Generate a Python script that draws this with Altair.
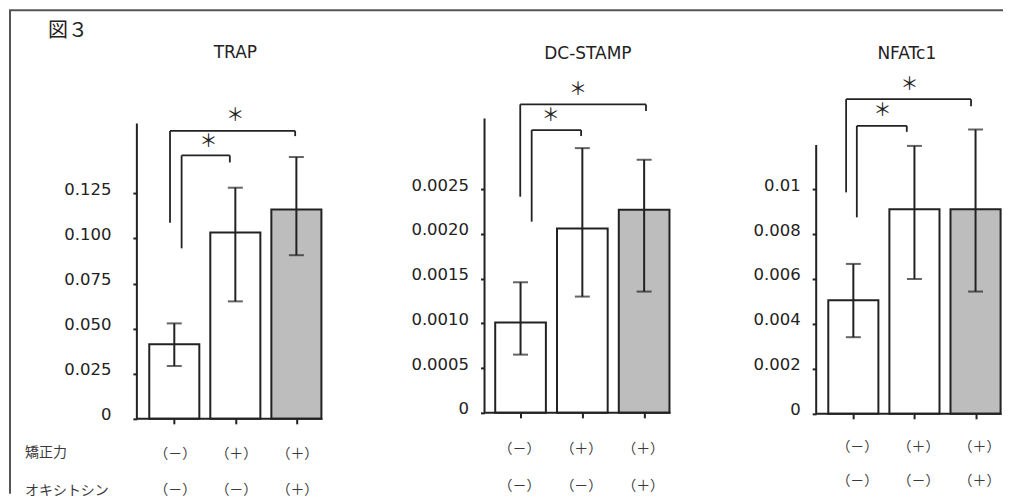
import altair as alt
import pandas as pd

# ---------------- data ----------------
GENES = ["TRAP", "DC-STAMP", "NFATc1"]
POSITIONS = [1, 2, 3]
FORCE = ["（－）", "（＋）", "（＋）"]
OXY = ["（－）", "（－）", "（＋）"]
OXY_GROUP = ["neg", "neg", "pos"]
ROW_HEADERS = ["矯正力", "オキシトシン"]
FIG_LABEL = "図３"

TRAP_MEAN = [0.0413, 0.1033, 0.1160]
TRAP_LOW = [0.0293, 0.0651, 0.0907]
TRAP_HIGH = [0.0529, 0.1281, 0.1451]

DC_MEAN = [0.00101, 0.00206, 0.00227]
DC_LOW = [0.000651, 0.00130, 0.001356]
DC_HIGH = [0.00146, 0.00296, 0.00283]

NF_MEAN = [0.00505, 0.0091, 0.0091]
NF_LOW = [0.00341, 0.0060, 0.00544]
NF_HIGH = [0.00667, 0.01192, 0.01265]

TRAP_TICKS = [0, 0.025, 0.05, 0.075, 0.1, 0.125]
DC_TICKS = [0, 0.0005, 0.001, 0.0015, 0.002, 0.0025]
NF_TICKS = [0, 0.002, 0.004, 0.006, 0.008, 0.01]

# significance brackets: (left-leg x, left-leg bottom, top, right-leg x, right-leg bottom)
TRAP_BRACKETS = [(1.12, 0.0945, 0.1460, 1.91, 0.1421), (0.93, 0.1087, 0.1596, 2.98, 0.1567)]
TRAP_STAR_X = [1.56, 2.00]
TRAP_STAR_Y = [0.1535, 0.1680]
DC_BRACKETS = [(1.18, 0.002138, 0.003162, 1.98, 0.003095), (0.995, 0.002417, 0.003449, 3.03, 0.003374)]
DC_STAR_X = [1.49, 1.93]
DC_STAR_Y = [0.003315, 0.003612]
NF_BRACKETS = [(1.057, 0.008742, 0.012813, 1.875, 0.012547), (0.882, 0.009853, 0.0140, 2.926, 0.013689)]
NF_STAR_X = [1.476, 1.917]
NF_STAR_Y = [0.013470, 0.014650]

# ---------------- style / layout ----------------
FONT = "DejaVu Sans"
CJK = "Noto Sans CJK JP"
INK = "#222222"
INK2 = "#3a3a3a"
GRAY = "#bdbdbd"
BAR_HALF = 0.41

LAYOUT = [
    dict(xmin=0.387, xmax=3.791, ytop=0.19324, axis_top=0.1637, w=208, h=349,
         fmt="datum.value == 0 ? '0' : format(datum.value, '.3f')", lp=22,
         title_x=2.0, title_y=-17, row1=384, row2=420, dx=1),
    dict(xmin=0.417, xmax=3.521, ytop=0.0038315, axis_top=0.003292, w=192, h=343,
         fmt="datum.value == 0 ? '0' : format(datum.value, '.4f')", lp=12,
         title_x=2.09, title_y=-16, row1=379, row2=416, dx=-1),
    dict(xmin=0.392, xmax=3.433, ytop=0.015289, axis_top=0.011956, w=186, h=344,
         fmt="datum.value == 0 ? '0' : format(datum.value, '.3~f')", lp=12,
         title_x=1.875, title_y=-16, row1=377, row2=411, dx=4),
]


def panel(idx, name, mean, low, high, ticks, brackets, star_x, star_y):
    L = LAYOUT[idx]
    xs = alt.Scale(domain=[L["xmin"], L["xmax"]], nice=False, zero=False)
    ys = alt.Scale(domain=[0, L["ytop"]], nice=False, zero=False)
    xaxis = alt.Axis(values=POSITIONS, labels=False, domain=False, grid=False,
                     tickSize=5, tickWidth=2, tickColor=INK, title=None)
    yaxis = alt.Axis(values=ticks, labelExpr=L["fmt"], domain=False, grid=False,
                     tickSize=4, tickWidth=2, tickColor=INK, labelFont=FONT,
                     labelFontSize=16.5, labelColor=INK, labelPadding=L["lp"],
                     labelOffset=-4, title=None)

    def X(f):
        return alt.X(f, type="quantitative", scale=xs, axis=xaxis)

    def Y(f):
        return alt.Y(f, type="quantitative", scale=ys, axis=yaxis)

    df = pd.DataFrame({"pos": POSITIONS, "mean": mean, "low": low, "high": high,
                       "force": FORCE, "oxy": OXY, "grp": OXY_GROUP})
    base = alt.Chart(df)

    bars = base.transform_calculate(
        x1=f"datum.pos - {BAR_HALF}", x2=f"datum.pos + {BAR_HALF}"
    ).mark_bar(stroke=INK, strokeWidth=2).encode(
        x=X("x1"), x2="x2:Q", y=Y("mean"), y2=alt.datum(0),
        fill=alt.Fill("grp:N", scale=alt.Scale(domain=["neg", "pos"], range=["white", GRAY]), legend=None),
    )
    err = base.mark_rule(color=INK, strokeWidth=2).encode(x=X("pos"), y=Y("low"), y2="high:Q")
    cap_lo = base.mark_tick(color=INK, thickness=2, size=15, orient="horizontal").encode(x=X("pos"), y=Y("low"))
    cap_hi = base.mark_tick(color=INK, thickness=2, size=15, orient="horizontal").encode(x=X("pos"), y=Y("high"))

    # axis lines
    yline = alt.Chart(pd.DataFrame({"x": [L["xmin"]], "a": [0.0], "b": [L["axis_top"]]})).mark_rule(
        color=INK, strokeWidth=2).encode(x=X("x"), y=Y("a"), y2="b:Q")
    xline = alt.Chart(pd.DataFrame({"a": [L["xmin"]], "b": [POSITIONS[-1] + BAR_HALF + 0.016], "y": [0.0]})).mark_rule(
        color=INK, strokeWidth=2).encode(x=X("a"), x2="b:Q", y=Y("y"))

    # brackets
    segs = []
    for (xa, ya, yt, xb, yb) in brackets:
        segs.append({"xa": xa, "xb": xa, "ya": ya, "yb": yt})
        segs.append({"xa": xa, "xb": xb, "ya": yt, "yb": yt})
        segs.append({"xa": xb, "xb": xb, "ya": yt, "yb": yb})
    br = alt.Chart(pd.DataFrame(segs)).mark_rule(color=INK, strokeWidth=1.8).encode(
        x=X("xa"), x2="xb:Q", y=Y("ya"), y2="yb:Q")
    stars = alt.Chart(pd.DataFrame({"x": star_x, "y": star_y})).mark_text(
        text="＊", font=CJK, fontSize=18, color=INK, baseline="middle").encode(x=X("x"), y=Y("y"))

    title = alt.Chart(pd.DataFrame({"name": [name], "x": [L["title_x"]]})).mark_text(
        font=FONT, fontSize=17, color=INK, baseline="middle").encode(
        x=X("x"), y=alt.value(L["title_y"]), text="name:N")

    row1 = base.mark_text(font=CJK, fontSize=14, color=INK2, baseline="middle", dx=L["dx"]).encode(
        x=X("pos"), y=alt.value(L["row1"]), text="force:N")
    row2 = base.mark_text(font=CJK, fontSize=14, color=INK2, baseline="middle", dx=L["dx"]).encode(
        x=X("pos"), y=alt.value(L["row2"]), text="oxy:N")

    layers = [bars, err, cap_lo, cap_hi, yline, xline, br, stars, title, row1, row2]

    if idx == 0:
        one = alt.Chart(pd.DataFrame({"k": [0]}))
        frame_v = one.mark_rule(color="#555555", strokeWidth=2).encode(
            x=alt.value(-127), y=alt.value(-60), y2=alt.value(424))
        frame_h = one.mark_rule(color="#555555", strokeWidth=2).encode(
            x=alt.value(-128), x2=alt.value(867), y=alt.value(-60))
        fig = alt.Chart(pd.DataFrame({"t": [FIG_LABEL]})).mark_text(
            font=CJK, fontSize=20, color=INK, align="left", baseline="middle").encode(
            x=alt.value(-89), y=alt.value(-39), text="t:N")
        hdr = alt.Chart(pd.DataFrame({"t": ROW_HEADERS, "yy": [383, 421]})).mark_text(
            font=CJK, fontSize=14, color=INK2, align="left", baseline="middle").encode(
            x=alt.value(-112), y=alt.Y("yy:Q", scale=None), text="t:N")
        layers += [frame_v, frame_h, fig, hdr]

    return alt.layer(*layers).properties(width=L["w"], height=L["h"])


p1 = panel(0, GENES[0], TRAP_MEAN, TRAP_LOW, TRAP_HIGH, TRAP_TICKS, TRAP_BRACKETS, TRAP_STAR_X, TRAP_STAR_Y)
p2 = panel(1, GENES[1], DC_MEAN, DC_LOW, DC_HIGH, DC_TICKS, DC_BRACKETS, DC_STAR_X, DC_STAR_Y)
p3 = panel(2, GENES[2], NF_MEAN, NF_LOW, NF_HIGH, NF_TICKS, NF_BRACKETS, NF_STAR_X, NF_STAR_Y)

chart = alt.hconcat(p1, p2, p3, spacing=140, bounds="flush").properties(
    padding={"left": 0, "top": 1, "right": 0, "bottom": 0}
).configure_view(stroke=None)

chart.save("out.html", embed_options={"renderer": "svg", "actions": False})
